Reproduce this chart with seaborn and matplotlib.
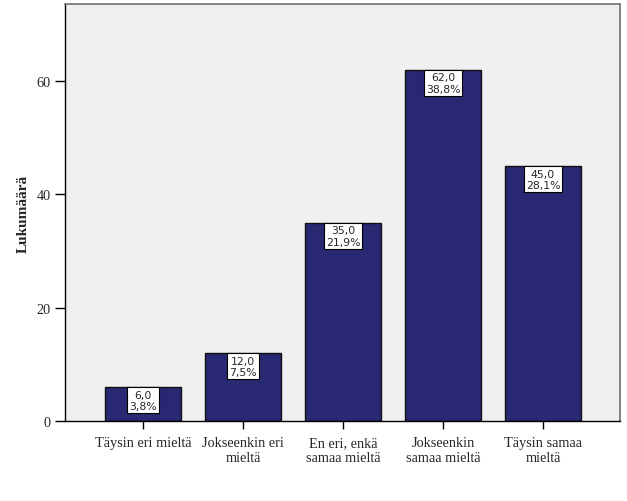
import matplotlib
matplotlib.use("Agg")
import matplotlib.pyplot as plt
import seaborn as sns
import pandas as pd

# data
categories = ["Täysin eri mieltä", "Jokseenkin eri\nmieltä", "En eri, enkä\nsamaa mieltä",
              "Jokseenkin\nsamaa mieltä", "Täysin samaa\nmieltä"]
counts = [6, 12, 35, 62, 45]
percents = [3.8, 7.5, 21.9, 38.8, 28.1]

df = pd.DataFrame({"cat": categories, "n": counts})

sns.set_style("white")
plt.rcParams["font.family"] = ["Liberation Serif", "DejaVu Serif"]

fig = plt.figure(figsize=(6.27, 5.02), dpi=100)
ax = fig.add_axes([65 / 627, 80 / 502, 555 / 627, 417 / 502])
ax.set_facecolor("#f0f0f0")

sns.barplot(data=df, x="cat", y="n", color="#282873", saturation=1, width=0.76,
            edgecolor="#111111", linewidth=1, ax=ax)

for i, (c, p) in enumerate(zip(counts, percents)):
    txt = f"{c:.1f}".replace(".", ",") + "\n" + f"{p:.1f}".replace(".", ",") + "%"
    ax.annotate(txt, xy=(i, c), xytext=(0, -1.8), textcoords="offset points",
                ha="center", va="top", fontsize=7.8, family="DejaVu Sans", linespacing=1.2,
                bbox=dict(boxstyle="square,pad=0.2", fc="white", ec="black", lw=0.8))

ax.set_xlim(-0.78, 4.77)
ax.set_ylim(0, 73.6)
ax.set_yticks([0, 20, 40, 60])
ax.set_xlabel("")
ax.set_ylabel("Lukumäärä", fontsize=11, fontweight="bold", labelpad=5)
ax.tick_params(axis="both", labelsize=10.3, length=7, width=1, color="black",
               direction="out", bottom=True, left=True)
ax.tick_params(axis="x", length=6, pad=5)

for side in ["left", "bottom"]:
    ax.spines[side].set_color("black")
    ax.spines[side].set_linewidth(1)
for side in ["top", "right"]:
    ax.spines[side].set_visible(True)
    ax.spines[side].set_color("#707070")
    ax.spines[side].set_linewidth(1.2)

fig.savefig("out.png", dpi=100)
